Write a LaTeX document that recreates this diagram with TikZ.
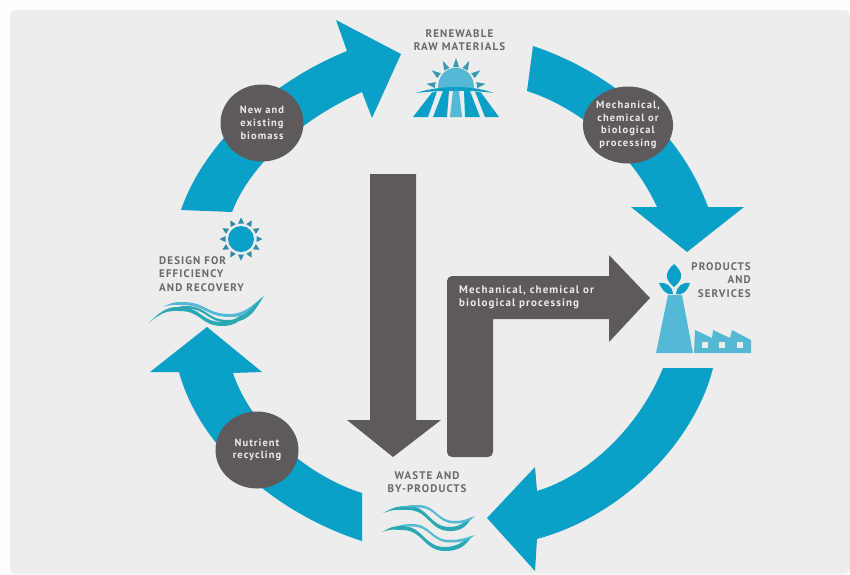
\documentclass[tikz,border=0pt]{standalone}
\usepackage{fontspec}
\usetikzlibrary{calc,shapes.geometric}
\setmainfont{PT Sans}
\newfontfamily\spaced[LetterSpace=10]{PT Sans}
\definecolor{blu}{HTML}{0AA0C8}
\definecolor{gry}{HTML}{5E5A5B}
\definecolor{bgc}{HTML}{EDEDED}
\definecolor{lbl}{HTML}{67696B}
\definecolor{lblu}{HTML}{55B8D4}
\definecolor{tealc}{HTML}{2AA9B5}
\definecolor{raydark}{HTML}{2F8CA3}
\tikzset{x=1pt,y=-1pt,
 blueshape/.style={fill=blu,draw=none},
 greyshape/.style={fill=gry,draw=none},
 disc/.style={ellipse,fill=gry,draw=none,minimum width=83pt,minimum height=77pt,inner sep=0pt,align=center,text=white!92!black,font=\spaced\fontsize{10.5}{12.7}\selectfont\bfseries},
 lab/.style={text=lbl,font=\spaced\fontsize{11}{13.4}\selectfont\bfseries,inner sep=0pt}}
\newcommand{\sunray}[6]{% cx cy angle r0 r1 colour
 \fill[#6] ($(#1,#2)+(#3:#4)+(#3+90:3)$) -- ($(#1,#2)+(#3:#5)$) -- ($(#1,#2)+(#3:#4)+(#3-90:3)$) -- cycle;}
\def\rt{3.5}
% ribbon: colour, start, crest, trough (x,y pairs), end x; end y in \ey
\newcommand{\ribbon}[8]{%
 \fill[#1] (#2,#3) .. controls ({#2+.5*(#4-#2)},{#5}) and ({#4-.3*(#4-#2)},{#5}) .. (#4,#5)
  .. controls ({#4+.5*(#6-#4)},{#5}) and ({#6-.5*(#6-#4)},{#7}) .. (#6,#7)
  .. controls ({#6+.5*(#8-#6)},{#7}) and ({#8-.25*(#8-#6)},{\ey+.3*(#7-\ey)}) .. (#8,\ey)
  .. controls ({#8-.25*(#8-#6)},{\ey+.7*(#7+\rt-\ey)}) and ({#6+.5*(#8-#6)},{#7+\rt}) .. (#6,{#7+\rt})
  .. controls ({#6-.5*(#6-#4)},{#7+\rt}) and ({#4+.5*(#6-#4)},{#5+\rt}) .. (#4,{#5+\rt})
  .. controls ({#4-.3*(#4-#2)},{#5+\rt}) and ({#2+.5*(#4-#2)},{#5+.6*\rt}) .. (#2,#3) -- cycle;}
\begin{document}
\begin{tikzpicture}
\useasboundingbox (0,0) rectangle (850,574);
\fill[white!97!bgc] (0,0) rectangle (850,574);
\fill[bgc,rounded corners=6pt] (10,10) rectangle (850,574);
% blue arrows
\fill[blueshape] (181,210) .. controls (205,140) and (275,80) .. (347,51) -- (336,20) -- (401,54) -- (372,118) -- (362,92) .. controls (300,120) and (250,165) .. (232,212) -- cycle;
\fill[blueshape] (533,46) .. controls (605,70) and (678,125) .. (708,207) -- (744,207) -- (687,252) -- (631,207) -- (657,207) .. controls (632,152) and (580,108) .. (527,91) -- cycle;
\fill[blueshape] (713,368) .. controls (695,440) and (625,515) .. (537,539) -- (535,571) -- (487,518) -- (535,467) -- (537,491) .. controls (590,475) and (640,425) .. (663,368) -- cycle;
\fill[blueshape] (362,541) .. controls (280,515) and (200,450) .. (179,372) -- (150,372) -- (207,327) -- (262,372) -- (233,373) .. controls (250,425) and (305,475) .. (362,493) -- cycle;
% grey arrows
\fill[greyshape] (370,174) -- (416,174) -- (416,420) -- (441,420) -- (393,457) -- (347,420) -- (370,420) -- cycle;
\fill[greyshape,rounded corners=5pt] (447,457) -- (447,276) -- (520,276) [sharp corners] -- (609,276) -- (609,255) -- (650,298) -- (609,342) -- (609,319) -- (493,319) [rounded corners=5pt] -- (493,457) -- cycle;
% discs
\node[disc] (d1) at (262,123) {New and\\existing\\biomass};
\node[disc] (d2) at (628,125) {Mechanical,\\chemical or\\biological\\processing};
\node[disc] (d3) at (257,450) {Nutrient\\recycling};
% labels
\node[lab,align=center] (t1) at (459.5,40) {RENEWABLE\\RAW MATERIALS};
\node[lab,align=right,anchor=east] (t2) at (751,280) {PRODUCTS\\AND\\SERVICES};
\node[lab,align=left,anchor=west] (t3) at (159,274) {DESIGN FOR\\EFFICIENCY\\AND RECOVERY};
\node[lab,align=center] (t4) at (427,482) {WASTE AND\\BY-PRODUCTS};
\node[anchor=west,align=left,text=white!92!black,inner sep=0pt,font=\spaced\fontsize{11}{13}\selectfont\bfseries] (t5) at (459,297.5) {Mechanical, chemical or\\biological processing};
% sun top
\foreach \a in {-8,-36,-64,-90,-116,-144,-172} {\sunray{456}{88}{\a}{21}{30}{raydark!70!lblu}}
\fill[lblu] (438,88) .. controls (438,61) and (474,61) .. (474,88) -- cycle;
\fill[blu] (416,93) .. controls (440,85) and (472,85) .. (494,93) .. controls (472,90) and (440,90) .. (416,93) -- cycle;
\fill[blu] (432,92.5) -- (437,91.5) -- (428,117) -- (413,117) -- cycle;
\fill[blu] (443,91) -- (449,90.5) -- (447,117) -- (433,117) -- cycle;
\fill[lblu] (453,90.5) -- (459,90.5) -- (462,117) -- (450,117) -- cycle;
\fill[blu] (464,90.5) -- (470,91) -- (480,117) -- (465,117) -- cycle;
\fill[blu] (475,91.5) -- (481,92.5) -- (499,117) -- (485,117) -- cycle;
% sun left
\fill[blu] (241,239) circle (13);
\foreach \a in {0,30,...,330} {\sunray{241}{239}{\a}{15.5}{21.5}{raydark}}
% waves
\def\ey{312}\def\rt{4}\ribbon{tealc}{149}{323}{180}{307}{222}{322}{246}
\def\ey{296}\def\rt{3}\ribbon{lblu}{163}{307}{182}{302}{230}{314}{264}
\def\ey{298}\def\rt{2.5}\ribbon{tealc}{170}{312}{186}{306}{228}{320}{262}
\def\ey{517}\def\rt{4}\ribbon{tealc}{383}{513}{408}{506}{450}{527}{472}
\def\ey{516}\def\rt{2.5}\ribbon{lblu}{400}{507}{418}{505}{455}{521}{475}
\def\ey{536}\def\rt{4}\ribbon{tealc}{382}{532}{402}{526}{445}{547}{472}
\def\ey{535}\def\rt{2.5}\ribbon{lblu}{398}{526}{412}{524}{450}{540}{475}
% factory
\fill[lblu] (656,353) -- (668,295) -- (682,295) -- (693,353) -- cycle;
\fill[lblu] (694,353) -- (695,330) -- (712,338) -- (713,330) -- (730,338) -- (732,330) -- (751,340) -- (751,353) -- cycle;
\foreach \x in {705,722,740} \fill[bgc] (\x-3,342) rectangle (\x+3,348);
\fill[blu] (674,264) .. controls (683,272) and (684,279) .. (674,287) .. controls (664,279) and (665,272) .. (674,264) -- cycle;
\fill[blu] (659,283) .. controls (667,282) and (672,286) .. (673,294) .. controls (667,296) and (662,290) .. (659,283) -- cycle;
\fill[blu] (690,283) .. controls (682,282) and (677,286) .. (676,294) .. controls (683,296) and (688,290) .. (690,283) -- cycle;
\end{tikzpicture}
\end{document}
